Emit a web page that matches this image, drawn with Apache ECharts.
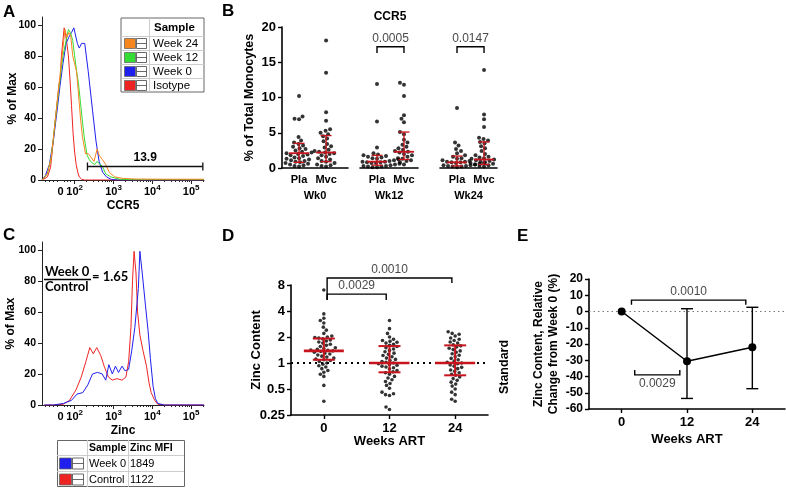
<!DOCTYPE html>
<html><head><meta charset="utf-8">
<script src="https://cdn.jsdelivr.net/npm/echarts@6/dist/echarts.min.js"></script>
<style>html,body{margin:0;padding:0;background:#fff}#c{width:786px;height:488px}</style>
</head><body><div id="c"></div>
<script>
// ================= DATA =================
// Panel A: CCR5 histograms (x in display decades of the biexponential axis, y = % of Max)
const isotypeX = [1.16,1.20,1.30,1.38,1.45,1.50,1.55,1.60,1.63,1.66,1.70,1.73,1.76,1.80,1.84,1.88,1.92,1.96,2.00,2.04,2.08,2.12,2.18,2.25,2.40,5.33];
const isotypeY = [0,0,2,8,25,38,50,62,65,80,90,98,95,88,80,65,48,30,18,10,5,2,0.5,0,0,0];
const week0X = [1.16,1.25,1.35,1.45,1.55,1.62,1.70,1.78,1.85,1.92,1.98,2.02,2.07,2.12,2.18,2.26,2.35,2.46,2.55,2.63,2.72,2.82,2.95,3.10,5.33];
const week0Y = [0,3,10,25,45,60,75,88,92,95,98,97,88,85,88,88,70,45,25,12,5,2,0.3,0,0];
const week12X = [1.16,1.30,1.40,1.50,1.60,1.70,1.80,1.84,1.89,1.95,2.00,2.05,2.10,2.15,2.20,2.25,2.32,2.38,2.45,2.52,2.58,2.65,2.71,2.80,2.93,3.16,3.50,5.33];
const week12Y = [0,4,15,38,60,80,92,97,95,90,80,70,62,50,38,27,16,13,11,10,12,10,9,4,2,0.5,0.2,0.2];
const week24X = [1.16,1.30,1.40,1.50,1.60,1.70,1.75,1.80,1.85,1.90,1.95,2.00,2.05,2.10,2.15,2.20,2.28,2.35,2.41,2.50,2.58,2.63,2.72,2.80,2.89,3.03,3.25,3.60,4.50,5.33];
const week24Y = [0,4,15,38,62,85,97,92,95,93,80,75,70,55,40,28,17,17,15,12,20,16,13,10,5,2,1,0.6,0.5,0.5];
const gateA = {from: 2.33, to: 5.30, level: 8.7, label: '13.9'};
const legendALabels = ['Week 24', 'Week 12', 'Week 0', 'Isotype'];

// Biexponential axis ticks (shared by A and C)
const flowTickValues = [1.64, 2, 3, 4, 5];
const flowTickBase = ['0', '10', '10', '10', '10'];
const flowTickExp = ['', '2', '3', '4', '5'];
const pctTicks = [0, 20, 40, 60, 80, 100];

// Panel B: CCR5 % of total monocytes
const bGroups = ['Wk0', 'Wk12', 'Wk24'];
const bArms = ['Pla', 'Mvc'];
const bPlaWk0 = [10.2,7.3,7.0,6.9,4.4,3.9,3.6,3.4,3.2,3.0,2.8,2.7,2.5,2.3,2.2,2.1,2.0,1.9,1.8,1.7,1.5,1.4,1.3,1.2,1.1,1.0,0.9,0.8,0.7,0.6,0.5,0.4,0.3,0.2];
const bMvcWk0 = [18.1,13.5,7.9,6.7,5.5,5.3,5.0,4.8,4.5,4.2,3.8,3.4,3.1,2.9,2.6,2.4,2.3,2.2,2.1,2.0,1.8,1.6,1.4,1.2,1.0,0.9,0.7,0.5,0.4,0.3,0.2];
const bPlaWk12 = [11.9,6.6,2.9,2.1,1.9,1.8,1.7,1.6,1.5,1.4,1.3,1.2,1.2,1.1,1.0,1.0,0.9,0.9,0.8,0.8,0.7,0.7,0.6,0.5,0.5,0.4,0.4,0.3,0.3,0.2,0.2,0.1,0.1];
const bMvcWk12 = [12.1,11.8,10.2,7.5,7.0,6.5,5.1,4.8,4.0,3.6,3.3,3.0,2.8,2.6,2.4,2.3,2.2,2.0,1.8,1.6,1.4,1.3,1.1,1.0,0.8,0.5];
const bPlaWk24 = [8.5,3.6,3.2,2.7,2.4,2.1,1.8,1.6,1.4,1.3,1.1,1.0,0.9,0.9,0.8,0.8,0.7,0.7,0.6,0.6,0.5,0.5,0.4,0.4,0.3,0.3,0.2,0.2,0.1];
const bMvcWk24 = [13.9,7.6,6.9,5.8,4.3,4.1,3.9,3.7,3.5,3.1,2.8,2.4,2.0,1.8,1.6,1.5,1.4,1.3,1.2,1.1,1.0,0.9,0.8,0.7,0.6,0.5,0.4,0.3,0.2];
// [median, q1, q3] for Pla and Mvc of each week
const bStatsWk0 = [[2.1,0.8,3.5],[2.2,0.9,4.6]];
const bStatsWk12 = [[0.9,0.4,1.8],[2.3,1.2,5.1]];
const bStatsWk24 = [[0.8,0.3,1.7],[1.2,0.5,3.7]];
const bPWk12 = '0.0005';
const bPWk24 = '0.0147';

// Panel C: Zinc histograms
const ctrlX = [1.22,1.45,1.71,1.87,2.04,2.17,2.29,2.39,2.48,2.57,2.67,2.76,2.87,2.97,3.09,3.22,3.32,3.39,3.45,3.49,3.53,3.58,3.62,3.68,3.76,3.85,3.91,3.97,4.06,4.14,4.31,5.33];
const ctrlY = [0,0,0.5,3,10,18,28,37,33,37,32,25,18,16,17,16,18,28,50,80,99,85,60,45,35,25,15,8,3,0.5,0,0];
const wk0ZnX = [1.22,1.45,1.71,1.92,2.06,2.21,2.34,2.46,2.59,2.71,2.80,2.88,2.97,3.05,3.13,3.22,3.30,3.39,3.47,3.55,3.64,3.68,3.74,3.82,3.89,3.95,4.02,4.08,4.14,4.31,5.33];
const wk0ZnY = [0,0,1,3,7,8,13,20,21,20,16,26,20,25,21,25,22,23,35,50,75,99,85,65,48,30,12,4,1,0,0];
const legendCRows = [['Week 0','1849'],['Control','1122']];

// Panel D: Zinc content (relative to standard)
const dWeeks = ['0', '12', '24'];
const dWk0 = [7.0,3.7,3.3,3.1,2.9,2.6,2.4,2.2,2.05,2.0,1.97,1.95,1.9,1.85,1.8,1.75,1.7,1.65,1.6,1.55,1.5,1.47,1.44,1.41,1.4,1.38,1.36,1.33,1.3,1.27,1.24,1.2,1.17,1.14,1.11,1.09,1.07,1.04,1.0,0.97,0.93,0.9,0.86,0.82,0.78,0.74,0.7,0.55,0.36];
const dWk12 = [3.1,2.5,2.2,2.0,1.88,1.82,1.78,1.74,1.7,1.65,1.6,1.55,1.5,1.45,1.4,1.35,1.3,1.26,1.22,1.18,1.14,1.1,1.07,1.04,1.02,1.0,0.98,0.96,0.94,0.92,0.9,0.88,0.85,0.82,0.79,0.77,0.74,0.7,0.67,0.64,0.61,0.58,0.55,0.51,0.46,0.44,0.43,0.42,0.31,0.29];
const dWk24 = [2.3,2.2,2.15,2.05,1.95,1.88,1.82,1.75,1.7,1.62,1.58,1.53,1.48,1.43,1.38,1.33,1.28,1.23,1.18,1.13,1.09,1.05,1.02,1.0,0.98,0.95,0.92,0.89,0.86,0.83,0.8,0.77,0.74,0.72,0.69,0.66,0.63,0.6,0.57,0.54,0.5,0.46,0.43,0.38,0.36];
const dStats = [[1.38,1.09,1.92],[1.0,0.78,1.57],[1.0,0.72,1.6]];
const dP = ['0.0010', '0.0029'];

// Panel E: relative change from week 0 (%)
const eWeeks = ['0', '12', '24'];
const eMean = [0, -30.6, -22];
const eUpper = [0, 1.7, 2.6];
const eLower = [0, -53.5, -47.5];
const eP = ['0.0010', '0.0029'];

// ================= CHART =================
const FONT = '"Liberation Sans", Arial, sans-serif';
const ORANGE = '#f7861e', GREEN = '#33dd33', BLUE = '#1f1fee', RED = '#ee2424';
const MEDRED = '#c8141c';
const chart = echarts.init(document.getElementById('c'), null, {renderer: 'canvas'});
const zip = (xs, ys) => xs.map((x, i) => [x, ys[i]]);

function flowLabel(v) {
  const i = flowTickValues.findIndex(t => Math.abs(t - v) < 1e-6);
  if (i < 0) return '';
  return flowTickExp[i] ? '{b|' + flowTickBase[i] + '}{s|' + flowTickExp[i] + '}' : '{b|' + flowTickBase[i] + '}';
}
const flowMinor = [];
for (let n = 2; n <= 5; n++) for (let k = 2; k <= 9; k++) { const u = n + Math.log10(k); if (u < 5.33) flowMinor.push(u); }
[1.25, 1.35, 1.45, 1.55, 1.73, 1.82, 1.9].forEach(u => flowMinor.push(u));

function flowXAxis(grid, name) {
  return [{
    gridIndex: grid, type: 'value', min: 1.16, max: 5.33, position: 'bottom',
    axisLine: {onZero: false, lineStyle: {color: '#222', width: 1}}, splitLine: {show: false},
    axisTick: {show: true, customValues: flowTickValues.slice(1), length: 4, lineStyle: {color: '#222'}},
    axisLabel: {customValues: flowTickValues, formatter: flowLabel, margin: 4,
      rich: {b: {fontFamily: FONT, fontWeight: 'bold', fontSize: 11, color: '#000', lineHeight: 16},
             s: {fontFamily: FONT, fontWeight: 'bold', fontSize: 8, color: '#000', lineHeight: 9, verticalAlign: 'top'}}},
    name: name, nameLocation: 'middle', nameGap: 20, nameMoveOverlap: false,
    nameTextStyle: {fontFamily: FONT, fontWeight: 'bold', fontSize: 12, color: '#000'}
  }, {
    gridIndex: grid, type: 'value', min: 1.16, max: 5.33, position: 'bottom',
    axisLine: {show: false, onZero: false}, splitLine: {show: false}, axisLabel: {show: false},
    axisTick: {show: true, customValues: flowMinor, length: 2, lineStyle: {color: '#222'}}
  }];
}
function pctYAxis(grid, gap) {
  return {
    gridIndex: grid, type: 'value', min: 0, max: 105,
    axisLine: {show: true, onZero: false, lineStyle: {color: '#222', width: 1}}, splitLine: {show: false},
    axisTick: {show: true, customValues: pctTicks, length: 4, lineStyle: {color: '#222'}},
    minorTick: {show: false},
    axisLabel: {customValues: pctTicks, fontFamily: FONT, fontWeight: 'bold', fontSize: 10.5, color: '#000', margin: 6},
    name: '% of Max', nameLocation: 'middle', nameGap: gap, nameRotate: 90, nameMoveOverlap: false,
    nameTextStyle: {fontFamily: FONT, fontWeight: 'bold', fontSize: 12, color: '#000'}
  };
}
function bXAxis(grid, max, week) {
  return {
    gridIndex: grid, type: 'value', min: 0.37, max: max,
    axisLine: {onZero: false, lineStyle: {color: '#000', width: 1.6}}, splitLine: {show: false},
    axisTick: {show: false},
    axisLabel: {customValues: [1, 2], formatter: v => bArms[Math.round(v) - 1], margin: 6,
      fontFamily: FONT, fontWeight: 'bold', fontSize: 11, color: '#000'},
    name: week, nameLocation: 'middle', nameGap: 22, nameMoveOverlap: false,
    nameTextStyle: {fontFamily: FONT, fontWeight: 'bold', fontSize: 11, color: '#000'}
  };
}
function bYAxis(grid, show) {
  return {
    gridIndex: grid, type: 'value', min: 0, max: 20, interval: 5, show: show,
    axisLine: {show: true, onZero: false, lineStyle: {color: '#000', width: 1.6}}, splitLine: {show: false},
    axisTick: {show: true, length: 4, lineStyle: {color: '#000', width: 1.4}},
    axisLabel: {fontFamily: FONT, fontWeight: 'bold', fontSize: 13, color: '#000', margin: 6},
    name: show ? '% of Total Monocytes' : '', nameLocation: 'middle', nameGap: 26, nameMoveOverlap: false,
    nameTextStyle: {fontFamily: FONT, fontWeight: 'bold', fontSize: 12.5, color: '#000'}
  };
}
function catXAxis(grid, labels, gap) {
  return {
    gridIndex: grid, type: 'value', min: -0.5, max: 2.5,
    axisLine: {onZero: false, lineStyle: {color: '#000', width: 1.6}}, splitLine: {show: false},
    axisTick: {show: true, customValues: [0, 1, 2], length: 4, lineStyle: {color: '#000', width: 1.4}},
    axisLabel: {customValues: [0, 1, 2], formatter: v => labels[Math.round(v)], margin: 7,
      fontFamily: FONT, fontWeight: 'bold', fontSize: 13, color: '#000'},
    name: 'Weeks ART', nameLocation: 'middle', nameGap: gap, nameMoveOverlap: false,
    nameTextStyle: {fontFamily: FONT, fontWeight: 'bold', fontSize: 13, color: '#000'}
  };
}

function medianSeries(xi, yi, id, xs, stats, halfMed, halfCap, medW, barW) {
  return {
    id: id, type: 'custom', xAxisIndex: xi, yAxisIndex: yi, z: 6, clip: false, silent: true,
    data: stats.map((s, i) => [xs[i], s[0], s[1], s[2]]),
    encode: {x: 0, y: [1, 2, 3]},
    renderItem: (params, api) => {
      const x = api.value(0);
      const pm = api.coord([x, api.value(1)]), p1 = api.coord([x, api.value(2)]), p3 = api.coord([x, api.value(3)]);
      const st = {stroke: MEDRED, lineWidth: barW};
      return {type: 'group', children: [
        {type: 'line', shape: {x1: p1[0], y1: p1[1], x2: p3[0], y2: p3[1]}, style: st},
        {type: 'line', shape: {x1: p1[0] - halfCap, y1: p1[1], x2: p1[0] + halfCap, y2: p1[1]}, style: st},
        {type: 'line', shape: {x1: p3[0] - halfCap, y1: p3[1], x2: p3[0] + halfCap, y2: p3[1]}, style: st},
        {type: 'line', shape: {x1: pm[0] - halfMed, y1: pm[1], x2: pm[0] + halfMed, y2: pm[1]}, style: {stroke: MEDRED, lineWidth: medW}}
      ]};
    }
  };
}
function bracketSeries(xi, yi, items) {
  return {
    type: 'custom', xAxisIndex: xi, yAxisIndex: yi, z: 7, clip: false, silent: true,
    data: items.map(b => [b.x1, b.x2, b.top, b.leg1, b.leg2]),
    encode: {x: [0, 1], y: [2, 3, 4]},
    renderItem: (params, api) => {
      const b = items[params.dataIndex];
      const pTL = api.coord([b.x1, b.top]), pTR = api.coord([b.x2, b.top]);
      const pL = api.coord([b.x1, b.leg1]), pR = api.coord([b.x2, b.leg2]);
      const ty = b.below ? pTL[1] + 3 : pTL[1] - 2;
      return {type: 'group', children: [
        {type: 'polyline', shape: {points: [pL, pTL, pTR, pR]}, style: {stroke: '#000', lineWidth: 1.4, fill: null}},
        {type: 'text', style: {text: b.text, x: (pTL[0] + pTR[0]) / 2, y: ty,
          align: 'center', textAlign: 'center', verticalAlign: b.below ? 'top' : 'bottom', textVerticalAlign: b.below ? 'top' : 'bottom',
          fill: '#4a4a4a', font: '12px ' + FONT}}
      ]};
    }
  };
}
function scatterSeries(id, xi, yi, size) {
  return {id: id, type: 'scatter', xAxisIndex: xi, yAxisIndex: yi, symbol: 'circle', symbolSize: size,
    itemStyle: {color: '#000'}, data: [], z: 3, silent: true};
}
function flowLine(xi, yi, xs, ys, color) {
  return {type: 'line', xAxisIndex: xi, yAxisIndex: yi, data: zip(xs, ys), symbol: 'none', showSymbol: false,
    lineStyle: {color: color, width: 1}, z: 2, silent: true};
}

const option = {
  animation: false,
  backgroundColor: '#fff',
  textStyle: {fontFamily: FONT},
  grid: [
    {left: 42, top: 17, width: 162, height: 163, outerBoundsMode: 'none'},
    {left: 282, top: 27, width: 66, height: 141, outerBoundsMode: 'none'},
    {left: 360, top: 27, width: 58, height: 141, outerBoundsMode: 'none'},
    {left: 440, top: 27, width: 57, height: 141, outerBoundsMode: 'none'},
    {left: 42, top: 242, width: 162, height: 163, outerBoundsMode: 'none'},
    {left: 291, top: 285, width: 197, height: 130, outerBoundsMode: 'none'},
    {left: 589, top: 279, width: 196, height: 130, outerBoundsMode: 'none'}
  ],
  xAxis: [
    ...flowXAxis(0, 'CCR5'),                 // 0,1
    bXAxis(1, 2.81, bGroups[0]),            // 2
    bXAxis(2, 2.52, bGroups[1]),            // 3
    bXAxis(3, 2.48, bGroups[2]),            // 4
    ...flowXAxis(4, 'Zinc'),                 // 5,6
    catXAxis(5, dWeeks, 20),                 // 7
    catXAxis(6, eWeeks, 24)                  // 8
  ],
  yAxis: [
    pctYAxis(0, 23),                         // 0
    bYAxis(1, true),                         // 1
    bYAxis(2, false),                        // 2
    bYAxis(3, false),                        // 3
    pctYAxis(4, 25),                         // 4
    {gridIndex: 5, type: 'log', logBase: 2, min: 0.25, max: 8,
      axisLine: {show: true, onZero: false, lineStyle: {color: '#000', width: 1.6}}, splitLine: {show: false},
      axisTick: {show: true, length: 4, lineStyle: {color: '#000', width: 1.4}}, minorTick: {show: false},
      axisLabel: {fontFamily: FONT, fontWeight: 'bold', fontSize: 13, color: '#000', margin: 6},
      name: 'Zinc Content', nameLocation: 'middle', nameGap: 28, nameMoveOverlap: false,
      nameTextStyle: {fontFamily: FONT, fontWeight: 'bold', fontSize: 13, color: '#000'}},   // 5
    {gridIndex: 6, type: 'value', min: -60, max: 20, interval: 10,
      axisLine: {show: true, onZero: false, lineStyle: {color: '#000', width: 1.6}}, splitLine: {show: false},
      axisTick: {show: true, length: 4, lineStyle: {color: '#000', width: 1.4}},
      axisLabel: {fontFamily: FONT, fontWeight: 'bold', fontSize: 12, color: '#000', margin: 6},
      name: 'Zinc Content, Relative\nChange from Week 0 (%)', nameLocation: 'middle', nameGap: 28, nameMoveOverlap: false,
      nameTextStyle: {fontFamily: FONT, fontWeight: 'bold', fontSize: 12, color: '#000', lineHeight: 15}}  // 6
  ],
  series: [
    // Panel A
    flowLine(0, 0, isotypeX, isotypeY, RED),
    flowLine(0, 0, week0X, week0Y, BLUE),
    flowLine(0, 0, week12X, week12Y, GREEN),
    flowLine(0, 0, week24X, week24Y, ORANGE),
    {type: 'custom', xAxisIndex: 0, yAxisIndex: 0, clip: false, silent: true, z: 5,
      data: [[gateA.from, gateA.to, gateA.level]], encode: {x: [0, 1], y: 2},
      renderItem: (params, api) => {
        const a = api.coord([api.value(0), api.value(2)]), b = api.coord([api.value(1), api.value(2)]);
        const st = {stroke: '#111', lineWidth: 1.3};
        return {type: 'group', children: [
          {type: 'line', shape: {x1: a[0], y1: a[1], x2: b[0], y2: b[1]}, style: st},
          {type: 'line', shape: {x1: a[0], y1: a[1] - 4, x2: a[0], y2: a[1] + 4}, style: st},
          {type: 'line', shape: {x1: b[0], y1: b[1] - 4, x2: b[0], y2: b[1] + 4}, style: st},
          {type: 'text', style: {text: gateA.label, x: (a[0] + b[0]) / 2, y: a[1] - 3, align: 'center', textAlign: 'center',
            verticalAlign: 'bottom', textVerticalAlign: 'bottom', font: 'bold 12px ' + FONT, fill: '#000'}}
        ]};
      }},
    // Panel B
    scatterSeries('bPla0', 2, 1, 4), scatterSeries('bMvc0', 2, 1, 4),
    scatterSeries('bPla12', 3, 2, 4), scatterSeries('bMvc12', 3, 2, 4),
    scatterSeries('bPla24', 4, 3, 4), scatterSeries('bMvc24', 4, 3, 4),
    medianSeries(2, 1, 'bMed0', [1, 2], bStatsWk0, 10, 5.5, 1.8, 1.3),
    medianSeries(3, 2, 'bMed12', [1, 2], bStatsWk12, 10, 5.5, 1.8, 1.3),
    medianSeries(4, 3, 'bMed24', [1, 2], bStatsWk24, 10, 5.5, 1.8, 1.3),
    bracketSeries(3, 2, [{x1: 1, x2: 2, top: 17.2, leg1: 16.3, leg2: 16.3, text: bPWk12}]),
    bracketSeries(4, 3, [{x1: 1, x2: 2, top: 17.2, leg1: 16.3, leg2: 16.3, text: bPWk24}]),
    // Panel C
    flowLine(5, 4, ctrlX, ctrlY, RED),
    flowLine(5, 4, wk0ZnX, wk0ZnY, BLUE),
    // Panel D
    {type: 'line', xAxisIndex: 7, yAxisIndex: 5, data: [[-0.5, 1], [2.63, 1]], symbol: 'none', clip: false, silent: true, z: 1,
      lineStyle: {color: '#000', width: 2, type: [2, 4]}},
    scatterSeries('d0', 7, 5, 3.6), scatterSeries('d12', 7, 5, 3.6), scatterSeries('d24', 7, 5, 3.6),
    medianSeries(7, 5, 'dMed', [0, 1, 2], dStats, 20, 11, 2.6, 2),
    bracketSeries(7, 5, [
      {x1: 0.05, x2: 1.95, top: 9.64, leg1: 5.36, leg2: 8.43, text: dP[0]},
      {x1: 0.05, x2: 0.95, top: 6.28, leg1: 5.36, leg2: 5.36, text: dP[1]}
    ]),
    // Panel E
    {type: 'line', xAxisIndex: 8, yAxisIndex: 6, data: [[-0.5, 0], [2.5, 0]], symbol: 'none', silent: true, z: 1,
      lineStyle: {color: '#777', width: 1.2, type: [1.5, 3]}},
    {type: 'custom', xAxisIndex: 8, yAxisIndex: 6, clip: false, silent: true, z: 3,
      data: eMean.map((m, i) => [i, eUpper[i], eLower[i]]), encode: {x: 0, y: [1, 2]},
      renderItem: (params, api) => {
        const x = api.value(0);
        if (api.value(1) === api.value(2)) return {type: 'group', children: []};
        const u = api.coord([x, api.value(1)]), l = api.coord([x, api.value(2)]);
        const st = {stroke: '#000', lineWidth: 1.4};
        return {type: 'group', children: [
          {type: 'line', shape: {x1: u[0], y1: u[1], x2: l[0], y2: l[1]}, style: st},
          {type: 'line', shape: {x1: u[0] - 6, y1: u[1], x2: u[0] + 6, y2: u[1]}, style: st},
          {type: 'line', shape: {x1: l[0] - 6, y1: l[1], x2: l[0] + 6, y2: l[1]}, style: st}
        ]};
      }},
    {type: 'line', xAxisIndex: 8, yAxisIndex: 6, data: eMean.map((m, i) => [i, m]), symbol: 'circle', symbolSize: 8,
      showSymbol: true, itemStyle: {color: '#000'}, lineStyle: {color: '#000', width: 1.5}, z: 4, silent: true},
    bracketSeries(8, 6, [
      {x1: 0.15, x2: 1.9, top: 7, leg1: 4.2, leg2: 4.2, text: eP[0]},
      {x1: 0.2, x2: 0.89, top: -39, leg1: -36, leg2: -36, text: eP[1], below: true}
    ])
  ],
  graphic: buildGraphics()
};

function buildGraphics() {
  const g = [];
  const letter = (t, x, y) => g.push({type: 'text', x: x, y: y, z: 100,
    style: {text: t, font: 'bold 17px ' + FONT, fill: '#000', align: 'left', textAlign: 'left', verticalAlign: 'top', textVerticalAlign: 'top'}});
  letter('A', 3, 4); letter('B', 222, 3); letter('C', 3, 227); letter('D', 222, 228); letter('E', 517, 228);
  const txt = (t, x, y, font, align, extra) => g.push(Object.assign({type: 'text', x: x, y: y, z: 100,
    style: {text: t, font: font, fill: '#000', align: align || 'left', textAlign: align || 'left', verticalAlign: 'middle', textVerticalAlign: 'middle'}}, extra || {}));
  // B title
  txt('CCR5', 390, 17, 'bold 12px ' + FONT, 'center');
  // D "Standard"
  txt('Standard', 505, 367, 'bold 12.5px ' + FONT, 'center', {rotation: Math.PI / 2});
  // Legend A
  const colors = [ORANGE, GREEN, BLUE, RED];
  const lx = 121, ly = 18, lw = 83, hh = 18, rh = 14;
  g.push({type: 'rect', z: 90, shape: {x: lx, y: ly, width: lw, height: hh + rh * 4}, style: {fill: '#fff', stroke: '#666', lineWidth: 1}});
  g.push({type: 'line', z: 91, shape: {x1: 149.5, y1: ly, x2: 149.5, y2: ly + hh + rh * 4}, style: {stroke: '#ccc', lineWidth: 1}});
  txt('Sample', 154, ly + hh / 2 + 1, 'bold 11.5px ' + FONT, 'left');
  for (let i = 0; i < 4; i++) {
    const top = ly + hh + rh * i;
    g.push({type: 'line', z: 91, shape: {x1: lx, y1: top + 0.5, x2: lx + lw, y2: top + 0.5}, style: {stroke: '#ccc', lineWidth: 1}});
    g.push({type: 'rect', z: 92, shape: {x: 124.5, y: top + 2.5, width: 11, height: 10}, style: {fill: colors[i], stroke: '#666', lineWidth: 0.8}});
    g.push({type: 'rect', z: 92, shape: {x: 136.5, y: top + 2.5, width: 10, height: 10}, style: {fill: '#fff', stroke: '#444', lineWidth: 0.8}});
    g.push({type: 'line', z: 93, shape: {x1: 136.5, y1: top + 7.5, x2: 146.5, y2: top + 7.5}, style: {stroke: '#444', lineWidth: 0.8}});
    txt(legendALabels[i], 153, top + rh / 2 + 0.5, '11.5px ' + FONT, 'left');
  }
  // Legend C
  const cx = 57, cy = 440, cw = 127, ch = 15, crh = 16;
  const ccol = [BLUE, RED];
  g.push({type: 'rect', z: 90, shape: {x: cx + 0.5, y: cy + 0.5, width: cw, height: ch + crh * 2 - 1}, style: {fill: '#fff', stroke: '#666', lineWidth: 1}});
  g.push({type: 'line', z: 91, shape: {x1: 87.5, y1: cy, x2: 87.5, y2: cy + ch + crh * 2}, style: {stroke: '#ccc', lineWidth: 1}});
  g.push({type: 'line', z: 91, shape: {x1: 128.5, y1: cy, x2: 128.5, y2: cy + ch + crh * 2}, style: {stroke: '#ccc', lineWidth: 1}});
  txt('Sample', 89, cy + ch / 2 + 1, 'bold 10.5px ' + FONT, 'left');
  txt('Zinc MFI', 130, cy + ch / 2 + 1, 'bold 10.5px ' + FONT, 'left');
  for (let i = 0; i < 2; i++) {
    const top = cy + ch + crh * i;
    g.push({type: 'line', z: 91, shape: {x1: cx, y1: top + 0.5, x2: cx + cw, y2: top + 0.5}, style: {stroke: '#ccc', lineWidth: 1}});
    g.push({type: 'rect', z: 92, shape: {x: 59.5, y: top + 3, width: 12, height: 11}, style: {fill: ccol[i], stroke: '#666', lineWidth: 0.8}});
    g.push({type: 'rect', z: 92, shape: {x: 72.5, y: top + 3, width: 11, height: 11}, style: {fill: '#fff', stroke: '#444', lineWidth: 0.8}});
    g.push({type: 'line', z: 93, shape: {x1: 72.5, y1: top + 8.5, x2: 83.5, y2: top + 8.5}, style: {stroke: '#444', lineWidth: 0.8}});
    txt(legendCRows[i][0], 89, top + crh / 2 + 0.5, '11px ' + FONT, 'left');
    txt(legendCRows[i][1], 130, top + crh / 2 + 0.5, '11px ' + FONT, 'left');
  }
  // C ratio annotation
  txt('Week 0', 45, 272, 'bold 13px Lato, "Open Sans", sans-serif', 'left');
  g.push({type: 'line', z: 100, shape: {x1: 44, y1: 279.5, x2: 91, y2: 279.5}, style: {stroke: '#000', lineWidth: 1.5}});
  txt('Control', 45, 287, 'bold 13px Lato, "Open Sans", sans-serif', 'left');
  txt('= 1.65', 92, 277, 'bold 13px Lato, "Open Sans", sans-serif', 'left');
  return g;
}

chart.setOption(option);

// ---- beeswarm layout of dot plots (computed from values via the axes) ----
function swarm(values, cx, gridIndex, diam) {
  const toPx = p => chart.convertToPixel({gridIndex: gridIndex}, p);
  const pxPerUnit = toPx([cx + 1, values[0]])[0] - toPx([cx, values[0]])[0];
  const pts = values.map(v => ({v: v, py: toPx([cx, v])[1]})).sort((a, b) => a.v - b.v);
  const placed = [], out = [];
  pts.forEach((p, idx) => {
    let best = 0;
    for (let k = 0; k < 400; k++) {
      const s = (idx % 2 === 0) ? 1 : -1;
      const cands = k === 0 ? [0] : [s * k * 0.5, -s * k * 0.5];
      let found = null;
      for (const dx of cands) {
        if (placed.every(q => (q.x - dx) * (q.x - dx) + (q.y - p.py) * (q.y - p.py) >= diam * diam)) { found = dx; break; }
      }
      if (found !== null) { best = found; break; }
    }
    placed.push({x: best, y: p.py});
    out.push([cx + best / pxPerUnit, p.v]);
  });
  return out;
}
chart.setOption({series: [
  {id: 'bPla0', data: swarm(bPlaWk0, 1, 1, 4.3)},
  {id: 'bMvc0', data: swarm(bMvcWk0, 2, 1, 4.3)},
  {id: 'bPla12', data: swarm(bPlaWk12, 1, 2, 4.3)},
  {id: 'bMvc12', data: swarm(bMvcWk12, 2, 2, 4.3)},
  {id: 'bPla24', data: swarm(bPlaWk24, 1, 3, 4.3)},
  {id: 'bMvc24', data: swarm(bMvcWk24, 2, 3, 4.3)},
  {id: 'd0', data: swarm(dWk0, 0, 5, 4)},
  {id: 'd12', data: swarm(dWk12, 1, 5, 4)},
  {id: 'd24', data: swarm(dWk24, 2, 5, 4)}
]});
</script>
</body></html>
